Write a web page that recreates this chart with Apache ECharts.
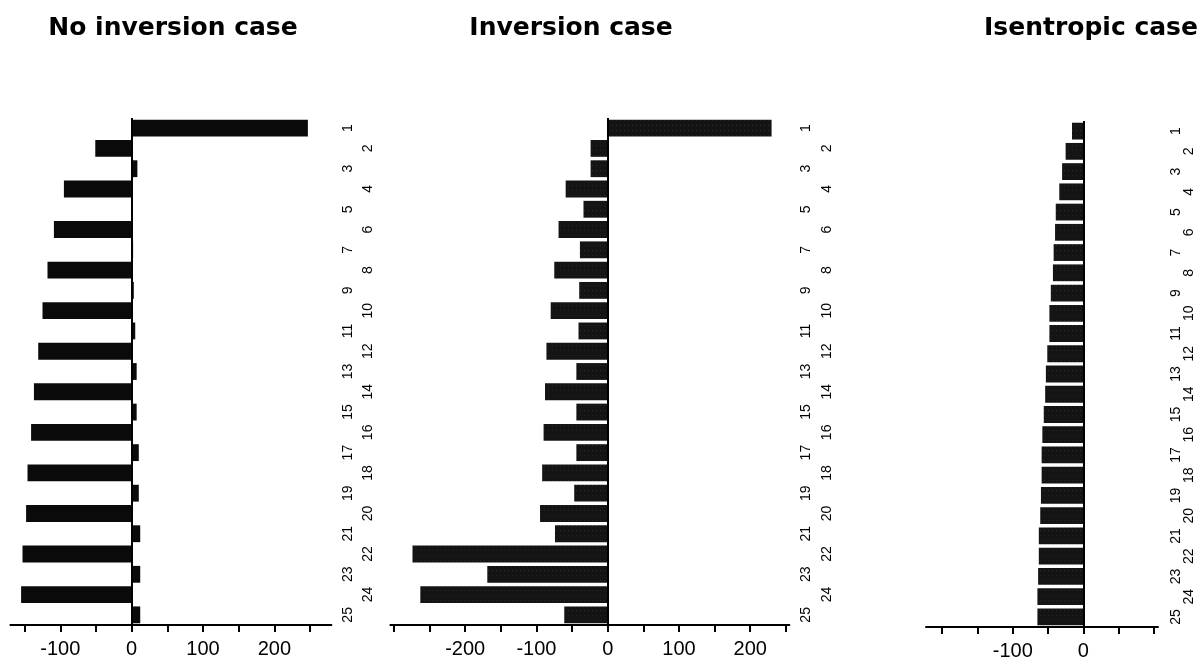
<!DOCTYPE html>
<html>
<head>
<meta charset="utf-8">
<script src="https://cdn.jsdelivr.net/npm/echarts@6/dist/echarts.min.js"></script>
<style>
html,body{margin:0;padding:0;background:#fff;}
#chart{width:1202px;height:661px;}
</style>
</head>
<body>
<div id="chart"></div>
<script>
// ---- data ----
const categories = ['1','2','3','4','5','6','7','8','9','10','11','12','13','14','15','16','17','18','19','20','21','22','23','24','25'];
const noInversion = [247, -51, 8, -95, 1, -109, 2, -118, 3, -125, 5, -131, 7, -137, 7, -141, 10, -146, 10, -148, 12, -153, 12, -155, 12];
const inversion = [230, -24, -24, -59, -34, -69, -39, -75, -40, -80, -41, -86, -44, -88, -44, -90, -44, -92, -47, -95, -74, -274, -169, -263, -61];
const isentropic = [-16, -25, -30, -34, -39, -40, -42, -43, -46, -48, -48, -51, -53, -54, -56, -58, -59, -59, -60, -61, -63, -63, -64, -65, -65];
const titles = ['No inversion case', 'Inversion case', 'Isentropic case'];
const ticks1 = [-150, -100, -50, 0, 50, 100, 150, 200, 250];
const labels1 = [-100, 0, 100, 200];
const ticks2 = [-300, -250, -200, -150, -100, -50, 0, 50, 100, 150, 200, 250];
const labels2 = [-200, -100, 0, 100, 200];
const ticks3 = [-200, -150, -100, -50, 0, 50, 100];
const labels3 = [-100, 0];

// ---- layout ----
const panels = [
  {data: noInversion, min: -170, max: 280, left: 10.4, width: 321, top: 118, height: 507, ticks: ticks1, labels: labels1, color: '#0a0a0a', m1: 10, m2: 30, decal: false, titleX: 168},
  {data: inversion, min: -305, max: 255, left: 390.4, width: 399, top: 118, height: 507, ticks: ticks2, labels: labels2, color: '#141414', m1: 10, m2: 31, decal: true, titleX: 566},
  {data: isentropic, min: -223, max: 106, left: 926, width: 232, top: 121, height: 506, ticks: ticks3, labels: labels3, color: '#141414', m1: 11, m2: 24, decal: true, titleX: 1086}
];

const grid = [], xAxis = [], yAxis = [], series = [], title = [];
panels.forEach((p, i) => {
  grid.push({left: p.left, top: p.top, width: p.width, height: p.height, containLabel: false});
  title.push({
    text: titles[i], left: p.titleX, top: 11, textAlign: 'center',
    textStyle: {fontFamily: 'DejaVu Sans', fontWeight: 'bold', fontSize: 25, color: '#000'}
  });
  xAxis.push({
    type: 'value', gridIndex: i, min: p.min, max: p.max,
    splitLine: {show: false},
    axisLine: {show: true, onZero: false, lineStyle: {color: '#000', width: 2}},
    axisTick: {show: true, inside: false, length: 7, customValues: p.ticks, lineStyle: {color: '#000', width: 2}},
    axisLabel: {show: true, customValues: p.labels, margin: 14, fontSize: 20, color: '#000', fontFamily: 'Liberation Sans',
      formatter: v => (v < 0 ? '-' + Math.abs(v) : String(v))}
  });
  const yBase = {
    type: 'category', gridIndex: i, data: categories, inverse: true, position: 'right',
    axisLine: {show: false}, axisTick: {show: false}, splitLine: {show: false}
  };
  yAxis.push(Object.assign({}, yBase, {
    axisLabel: {show: true, interval: 0, rotate: 90, margin: p.m1, fontSize: 14, color: '#000', fontFamily: 'Liberation Sans',
      formatter: (v, idx) => (idx % 2 === 0 ? v : '')}
  }));
  yAxis.push(Object.assign({}, yBase, {
    axisLabel: {show: true, interval: 0, rotate: 90, margin: p.m2, fontSize: 14, color: '#000', fontFamily: 'Liberation Sans',
      formatter: (v, idx) => (idx % 2 === 1 ? v : '')}
  }));
  const itemStyle = {color: p.color};
  if (p.decal) {
    itemStyle.decal = {symbol: 'rect', symbolSize: 0.6, color: 'rgba(255,255,255,0.28)', dashArrayX: [1, 3], dashArrayY: [1, 4], rotation: 0};
  }
  series.push({
    type: 'bar', xAxisIndex: i, yAxisIndex: i * 2, data: p.data, barWidth: '83%',
    itemStyle: itemStyle, silent: true, animation: false,
    markLine: {silent: true, symbol: 'none', label: {show: false}, lineStyle: {color: '#000', width: 2, type: 'solid'}, data: [{xAxis: 0}]}
  });
});

const chart = echarts.init(document.getElementById('chart'), null, {renderer: 'canvas'});
chart.setOption({backgroundColor: '#fff', animation: false, title, grid, xAxis, yAxis, series});
</script>
</body>
</html>
